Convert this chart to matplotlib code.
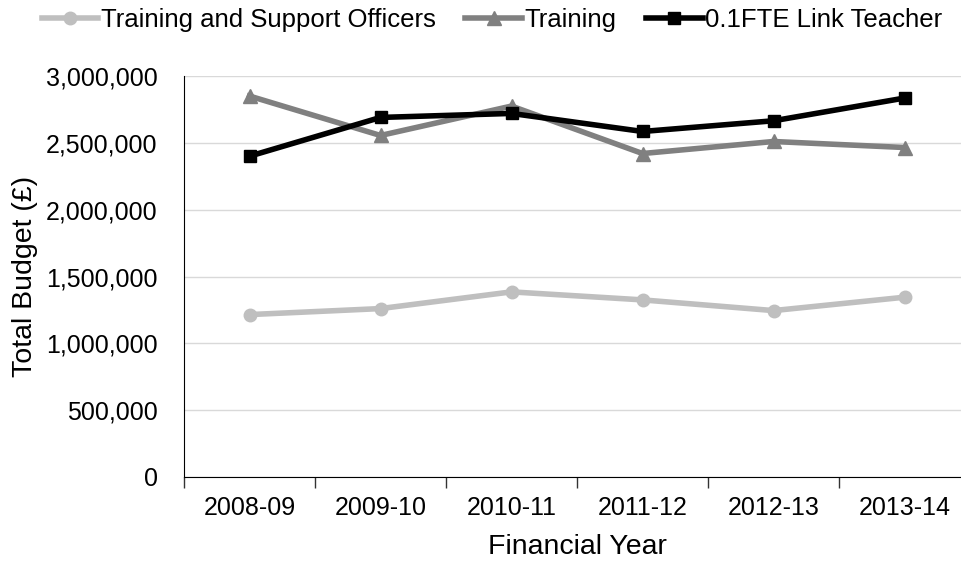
import matplotlib
matplotlib.use("Agg")
import matplotlib.pyplot as plt
from matplotlib.ticker import FuncFormatter

years = ["2008-09", "2009-10", "2010-11", "2011-12", "2012-13", "2013-14"]
support_officers = [1215000, 1260000, 1385000, 1325000, 1245000, 1345000]
training = [2850000, 2555000, 2775000, 2420000, 2510000, 2465000]
link_teacher = [2400000, 2690000, 2720000, 2585000, 2665000, 2835000]

plt.rcParams["font.family"] = ["Liberation Sans", "DejaVu Sans"]

dpi = 100
fig = plt.figure(figsize=(961 / dpi, 562 / dpi), dpi=dpi)
ax = fig.add_axes([184 / 961, (562 - 477) / 562, (970 - 184) / 961, (477 - 76) / 562])

x = range(len(years))
ax.plot(x, support_officers, color="#bfbfbf", lw=4, marker="o", ms=9,
        label="Training and Support Officers")
ax.plot(x, training, color="#808080", lw=4, marker="^", ms=10,
        label="Training")
ax.plot(x, link_teacher, color="black", lw=4, marker="s", ms=9,
        label="0.1FTE Link Teacher")

ax.set_xlim(-0.5, 5.5)
ax.set_ylim(0, 3000000)
ax.set_yticks(range(0, 3000001, 500000))
ax.yaxis.set_major_formatter(FuncFormatter(lambda v, p: f"{int(v):,}"))
ax.set_xticks(list(x))
ax.set_xticklabels(years)
ax.set_xticks([i - 0.5 for i in range(len(years) + 1)], minor=True)
ax.tick_params(axis="x", which="major", length=0, pad=14, labelsize=18)
ax.tick_params(axis="x", which="minor", length=8, width=1, color="#333333")
ax.tick_params(axis="y", length=0, pad=19, labelsize=18)

ax.grid(axis="y", color="#d9d9d9", lw=1)
ax.set_axisbelow(True)
for s in ["top", "right"]:
    ax.spines[s].set_visible(False)
ax.spines["left"].set_color("black")
ax.spines["bottom"].set_color("black")

ax.set_ylabel("Total Budget (\u00a3)", fontsize=20.5, labelpad=6)
ax.set_xlabel("Financial Year", fontsize=20.5, labelpad=10)

fig.legend(loc="center", bbox_to_anchor=(492 / 961, 1 - 20 / 562), ncol=3, frameon=False,
           fontsize=18.5, handlelength=2.2, handletextpad=0.1, columnspacing=1.15,
           borderaxespad=0, borderpad=0)

fig.savefig("out.png", dpi=dpi)
